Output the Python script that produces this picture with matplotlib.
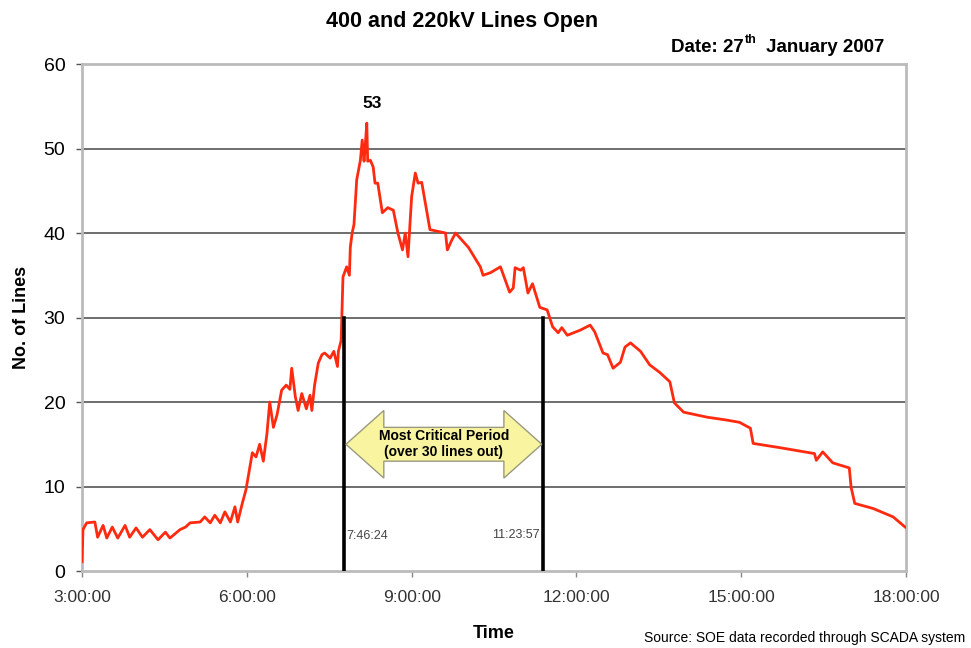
import numpy as np
import matplotlib.pyplot as plt
from matplotlib.patches import Polygon

plt.rcParams['font.family'] = ['Liberation Sans', 'DejaVu Sans']

# lines open vs time of day
times = ["3:00", "3:01", "3:05", "3:14", "3:17", "3:23", "3:27", "3:33", "3:39", "3:47",
         "3:52", "3:59", "4:06", "4:14", "4:23", "4:31", "4:36", "4:47", "4:53", "4:58",
         "5:09", "5:14", "5:20", "5:25", "5:31", "5:36", "5:42", "5:47", "5:50", "5:55",
         "5:59", "6:02", "6:06", "6:10", "6:14", "6:18", "6:22", "6:25", "6:29", "6:33",
         "6:38", "6:43", "6:47", "6:49", "6:53", "6:56", "7:00", "7:05", "7:09", "7:11",
         "7:14", "7:18", "7:22", "7:25", "7:31", "7:35", "7:39", "7:40", "7:43", "7:45",
         "7:49", "7:52", "7:53", "7:55", "7:57", "8:00", "8:04", "8:06", "8:08", "8:09",
         "8:11", "8:12", "8:15", "8:18", "8:20", "8:23", "8:28", "8:34", "8:40", "8:45",
         "8:50", "8:53", "8:56", "9:00", "9:04", "9:07", "9:11", "9:20", "9:37", "9:39",
         "9:44", "9:48", "10:02", "10:15", "10:18", "10:26", "10:37", "10:42", "10:47", "10:51",
         "10:53", "10:59", "11:02", "11:07", "11:12", "11:20", "11:28", "11:34", "11:40", "11:44",
         "11:50", "12:04", "12:15", "12:20", "12:29", "12:34", "12:40", "12:48", "12:53", "12:59",
         "13:10", "13:20", "13:31", "13:42", "13:47", "13:57", "14:23", "14:42", "14:58", "15:10",
         "15:13", "15:42", "16:20", "16:22", "16:29", "16:40", "16:58", "17:00", "17:04", "17:24",
         "17:46", "17:59"]
lines_open = [1.1, 4.9, 5.7, 5.8, 4.0, 5.4, 3.9, 5.2, 3.9, 5.4,
              4.0, 5.1, 4.0, 4.9, 3.7, 4.6, 3.9, 4.9, 5.2, 5.7,
              5.8, 6.4, 5.7, 6.6, 5.7, 7.0, 5.8, 7.6, 5.8, 8.0,
              9.6, 11.5, 14.0, 13.5, 15.0, 13.0, 16.3, 20.0, 17.0, 18.5,
              21.4, 22.0, 21.5, 24.0, 20.6, 19.0, 21.0, 19.2, 20.8, 19.0,
              22.0, 24.6, 25.6, 25.8, 25.2, 26.0, 24.2, 26.0, 27.3, 34.8,
              36.0, 35.0, 38.3, 40.0, 41.0, 46.3, 48.6, 51.0, 48.5, 49.8,
              53.0, 48.5, 48.6, 47.8, 45.9, 45.9, 42.4, 43.0, 42.7, 40.0,
              38.0, 40.0, 37.2, 44.3, 47.1, 45.9, 46.0, 40.4, 40.0, 38.0,
              39.2, 40.0, 38.3, 36.0, 35.0, 35.3, 36.0, 34.5, 33.0, 33.5,
              35.9, 35.6, 35.9, 32.9, 34.0, 31.2, 30.9, 28.9, 28.2, 28.8,
              27.9, 28.5, 29.1, 28.3, 25.8, 25.6, 24.0, 24.7, 26.5, 27.0,
              26.0, 24.4, 23.5, 22.4, 19.9, 18.8, 18.2, 17.9, 17.6, 16.9,
              15.1, 14.6, 13.9, 13.1, 14.1, 12.8, 12.2, 9.9, 8.0, 7.4,
              6.4, 5.2]

crit_labels = ["7:46:24", "11:23:57"]
crit_level = 30
peak = 53
yticks = [0, 10, 20, 30, 40, 50, 60]
xticks_h = [3, 6, 9, 12, 15, 18]


def to_hours(s):
    parts = [int(p) for p in s.split(":")]
    while len(parts) < 3:
        parts.append(0)
    return parts[0] + parts[1] / 60 + parts[2] / 3600


hours = np.array([to_hours(t) for t in times])
crit_h = [to_hours(t) for t in crit_labels]

fig = plt.figure(figsize=(9.71, 6.48), dpi=100)
ax = fig.add_axes([0.0845, 0.1188, 0.8486, 0.7824])

for v in yticks[1:-1]:
    ax.axhline(v, color='#555555', lw=1.2, zorder=1)

ax.plot(hours, lines_open, color='#ff2a10', lw=2.0, zorder=3)

# critical period markers
for h in crit_h:
    ax.plot([h, h], [0, crit_level], color='black', lw=2.6, zorder=4)
ax.text(crit_h[0] + 0.04, 4.1, crit_labels[0], fontsize=9, color='#444444', ha='left', va='center')
ax.text(crit_h[1] - 0.06, 4.3, crit_labels[1], fontsize=9, color='#444444', ha='right', va='center')

# double arrow
x0, x1 = crit_h[0] + 0.03, crit_h[1] - 0.03
yc, bh, hh, hl = 15.0, 2.0, 4.0, 0.69
pts = [(x0, yc), (x0 + hl, yc + hh), (x0 + hl, yc + bh), (x1 - hl, yc + bh),
       (x1 - hl, yc + hh), (x1, yc), (x1 - hl, yc - hh), (x1 - hl, yc - bh),
       (x0 + hl, yc - bh), (x0 + hl, yc - hh)]
ax.add_patch(Polygon(pts, closed=True, fc='#f8f4a0', ec='#9a9a80', lw=1.0, zorder=5))
ax.text((x0 + x1) / 2, yc, "Most Critical Period\n(over 30 lines out)", fontsize=10,
        fontweight='bold', ha='center', va='center', zorder=6, linespacing=1.15)

ax.text(hours[int(np.argmax(lines_open))] + 0.09, peak + 1.4, str(peak), fontsize=12.5,
        fontweight='bold', ha='center', va='bottom')

ax.set_xlim(3, 18)
ax.set_ylim(0, 60)
ax.set_yticks(yticks)
ax.set_yticklabels([str(v) for v in yticks], fontsize=14)
ax.set_xticks(xticks_h)
ax.set_xticklabels(["%d:00:00" % h for h in xticks_h], fontsize=12.5, color='#333333')
ax.tick_params(axis='x', length=4, width=1, color='#888888', pad=10)
ax.tick_params(axis='y', length=4, width=1, color='#555555', pad=8)
for sp in ax.spines.values():
    sp.set_color('#bbbbbb')
    sp.set_linewidth(2)

ax.set_ylabel("No. of Lines", fontsize=13, fontweight='bold', labelpad=10)
ax.set_xlabel("Time", fontsize=13, fontweight='bold', labelpad=14)

fig.text(462 / 971, 1 - 22 / 648, "400 and 220kV Lines Open", fontsize=15.5, fontweight='bold',
         ha='center', va='center')
fig.text(744 / 971, 1 - 52 / 648, "Date: 27", fontsize=13.5, fontweight='bold', ha='right', va='baseline')
fig.text(745 / 971, 1 - 43 / 648, "th", fontsize=9, fontweight='bold', ha='left', va='baseline')
fig.text(766 / 971, 1 - 52 / 648, "January 2007", fontsize=13.5, fontweight='bold', ha='left', va='baseline')
fig.text(965 / 971, 1 - 638 / 648, "Source: SOE data recorded through SCADA system", fontsize=10,
         ha='right', va='center')

fig.savefig("out.png", dpi=100)
